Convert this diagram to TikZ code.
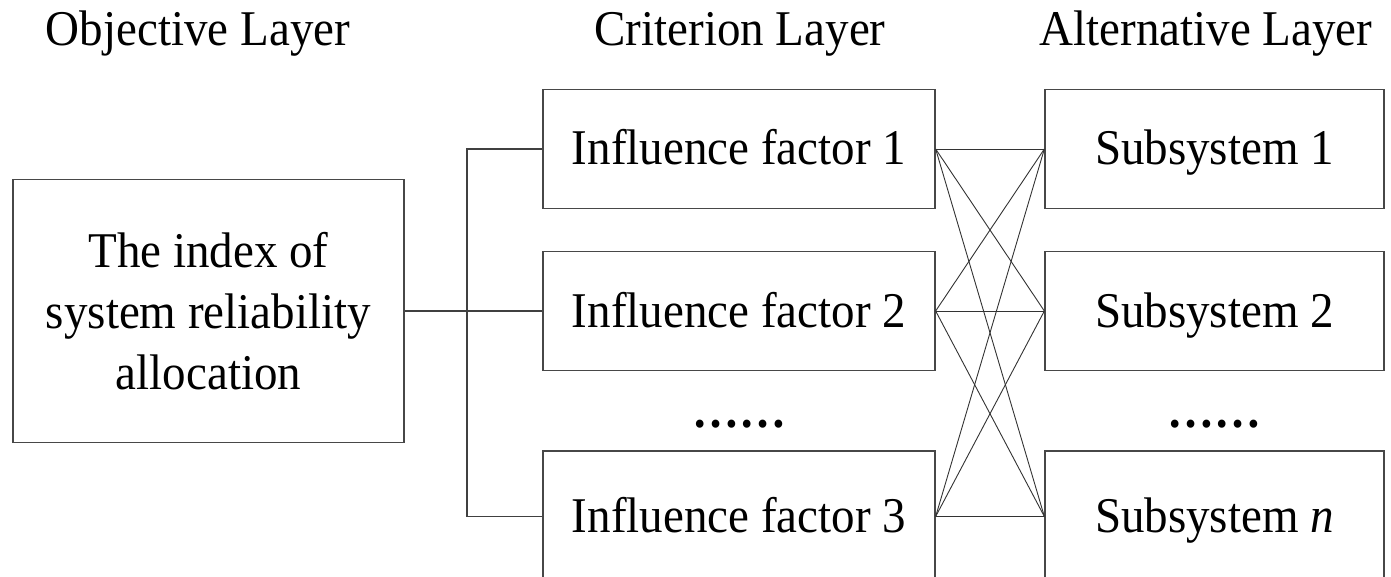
\documentclass[tikz,border=0pt]{standalone}
\usepackage{fontspec}
\setmainfont[FakeStretch=0.94]{Liberation Serif}
\tikzset{
  lbox/.style={draw=black!72, line width=1.3pt, rectangle, inner sep=0pt, align=center},
  objbox/.style={lbox, minimum width=391pt, minimum height=263pt},
  critbox/.style={lbox, minimum width=392pt, minimum height=119pt, text height=36pt, text depth=4pt},
  altbox/.style={lbox, minimum width=339pt, minimum height=119pt, text height=36pt, text depth=4pt},
  lastrow/.style={minimum height=131pt},
  conn/.style={draw=black!75, line width=1.2pt},
  cross/.style={draw=black!80, line width=0.9pt},
  title/.style={anchor=base, inner sep=0pt},
  dots/.style={inner sep=0pt, font=\bfseries}
}
\begin{document}
\begin{tikzpicture}[x=1pt,y=-1pt]
\useasboundingbox (0,0) rectangle (1391,577);
\fontsize{50}{61}\selectfont
% titles
\node[title] (t1) at (198,46) {Objective Layer};
\node[title] (t2) at (740,46) {Criterion Layer};
\node[title] (t3) at (1206,46) {Alternative Layer};
% boxes
\node[objbox] (obj) at (208.5,311) {The index of\\system reliability\\allocation};
\node[critbox] (c1) at (739,149) {Influence factor 1};
\node[critbox] (c2) at (739,311) {Influence factor 2};
\node[critbox, lastrow] (c3) at (739,516.5) {Influence factor 3};
\node[altbox] (a1) at (1214.5,149) {Subsystem 1};
\node[altbox] (a2) at (1214.5,311) {Subsystem 2};
\node[altbox, lastrow] (a3) at (1214.5,516.5) {Subsystem \textit{n}};
\node[dots] (d1) at (739.5,424) {……};
\node[dots] (d2) at (1214.5,424) {……};
% tree connectors
\coordinate (bus) at (467,311);
\draw[conn] (obj.east) -- (c2.west);
\draw[conn] (c1.west) -- (c1.west -| bus) -- (c3.west -| bus) -- (c3.west);
% cross connectors
\foreach \i in {1,2,3}{
  \foreach \j in {1,2,3}{
    \draw[cross] (c\i.east) -- (a\j.west);
  }
}
\end{tikzpicture}
\end{document}
